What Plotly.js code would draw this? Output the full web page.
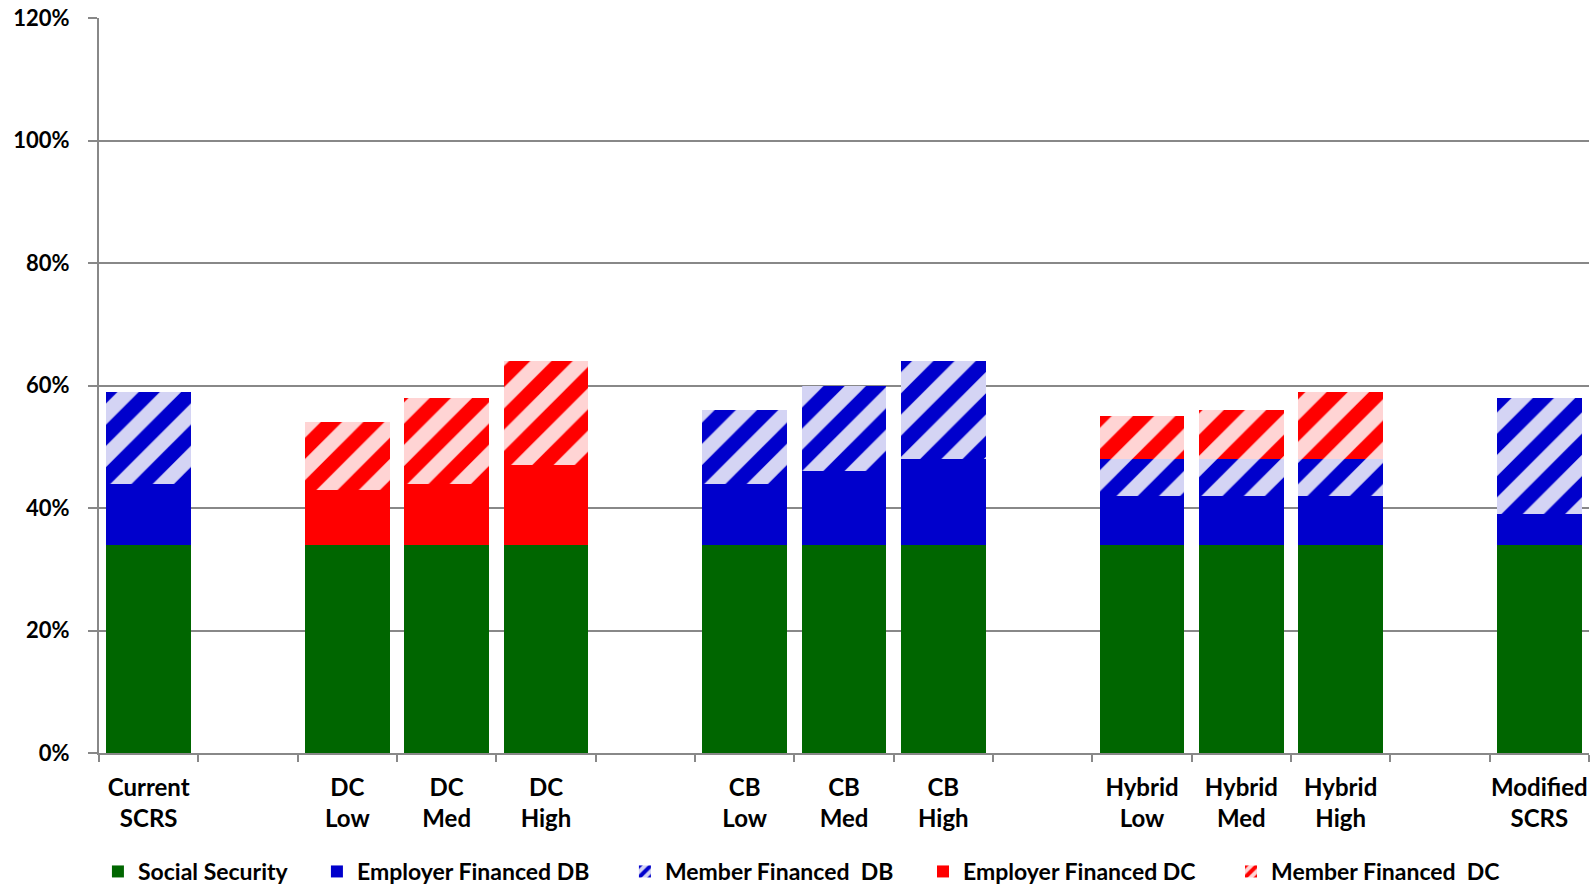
<!DOCTYPE html>
<html>
<head>
<meta charset="utf-8">
<script src="https://cdn.plot.ly/plotly-3.0.1.min.js"></script>
<style>html,body{margin:0;padding:0;background:#fff;}#chart{width:1595px;height:893px;}</style>
</head>
<body>
<div id="chart"></div>
<script>
const categories = ["Current<br>SCRS", "", "DC<br>Low", "DC<br>Med", "DC<br>High", "", "CB<br>Low", "CB<br>Med", "CB<br>High", "", "Hybrid<br>Low", "Hybrid<br>Med", "Hybrid<br>High", "", "Modified<br>SCRS"];
const socialSecurity = [34, null, 34, 34, 34, null, 34, 34, 34, null, 34, 34, 34, null, 34];
const employerDB     = [10, null, 0, 0, 0, null, 10, 12, 14, null, 8, 8, 8, null, 5];
const memberDB       = [15, null, 0, 0, 0, null, 12, 14, 16, null, 6, 6, 6, null, 19];
const employerDC     = [0, null, 9, 10, 13, null, 0, 0, 0, null, 0, 0, 0, null, 0];
const memberDC       = [0, null, 11, 14, 17, null, 0, 0, 0, null, 7, 8, 11, null, 0];
const yTicks = [0, 20, 40, 60, 80, 100, 120];

const xPos = categories.map((c, i) => i);
const FONT = "Lato, 'Open Sans', sans-serif";
const legendFont = {family: FONT, size: 23, color: "#000000", weight: "bold"};

function bar(name, y, color, hatched, legendId, lightColor) {
  const marker = {color: color, line: {width: 0}};
  if (hatched) {
    marker.color = lightColor;
    marker.pattern = {shape: "/", fgcolor: color, bgcolor: lightColor, size: 30, solidity: 0.5, fillmode: "replace", fgopacity: 1};
  }
  return {type: "bar", name: name, x: xPos, y: y, marker: marker, legend: legendId, hoverinfo: "name+y"};
}

const data = [
  bar("Social Security", socialSecurity, "#006600", false, "legend"),
  bar("Employer Financed DB", employerDB, "#0000CC", false, "legend2"),
  bar("Member Financed  DB", memberDB, "#0000CC", true, "legend3", "#d4d4f4"),
  bar("Employer Financed DC", employerDC, "#FF0000", false, "legend4"),
  bar("Member Financed  DC", memberDC, "#FF0000", true, "legend5", "#ffd4d4")
];

function leg(x) {
  return {orientation: "h", xref: "container", yref: "container", x: x, y: 0.0, xanchor: "left", yanchor: "bottom",
          font: legendFont, itemwidth: 30, bgcolor: "rgba(0,0,0,0)"};
}

const layout = {
  width: 1595, height: 893,
  margin: {l: 99, r: 6, t: 18, b: 140},
  paper_bgcolor: "#ffffff", plot_bgcolor: "#ffffff",
  barmode: "stack", bargap: 0.15,
  font: {family: FONT, size: 20, color: "#000000", weight: "bold"},
  xaxis: {
    range: [-0.5, categories.length - 0.5],
    tickmode: "array", tickvals: xPos, ticktext: categories,
    ticks: "", showgrid: false, zeroline: false,
    showline: true, linecolor: "#888888", linewidth: 2,
    tickfont: {family: FONT, size: 24, color: "#000000", weight: "bold"},
    ticklabelstandoff: 12,
    minor: {tick0: -0.5, dtick: 1, ticks: "outside", ticklen: 7, tickwidth: 2, tickcolor: "#888888", showgrid: false},
    fixedrange: true
  },
  yaxis: {
    range: [0, 120],
    tickmode: "array", tickvals: yTicks, ticktext: yTicks.map(v => v + "%"),
    ticks: "outside", ticklen: 9, tickwidth: 2, tickcolor: "#888888",
    showgrid: true, gridcolor: "#888888", gridwidth: 2,
    zeroline: false, showline: true, linecolor: "#888888", linewidth: 2,
    tickfont: {family: FONT, size: 22, color: "#000000", weight: "bold"},
    ticklabelstandoff: 14,
    fixedrange: true
  },
  showlegend: true,
  legend: leg(0.0614),
  legend2: leg(0.1987),
  legend3: leg(0.3918),
  legend4: leg(0.5787),
  legend5: leg(0.7718)
};

Plotly.newPlot("chart", data, layout, {displayModeBar: false, staticPlot: true});
</script>
</body>
</html>
